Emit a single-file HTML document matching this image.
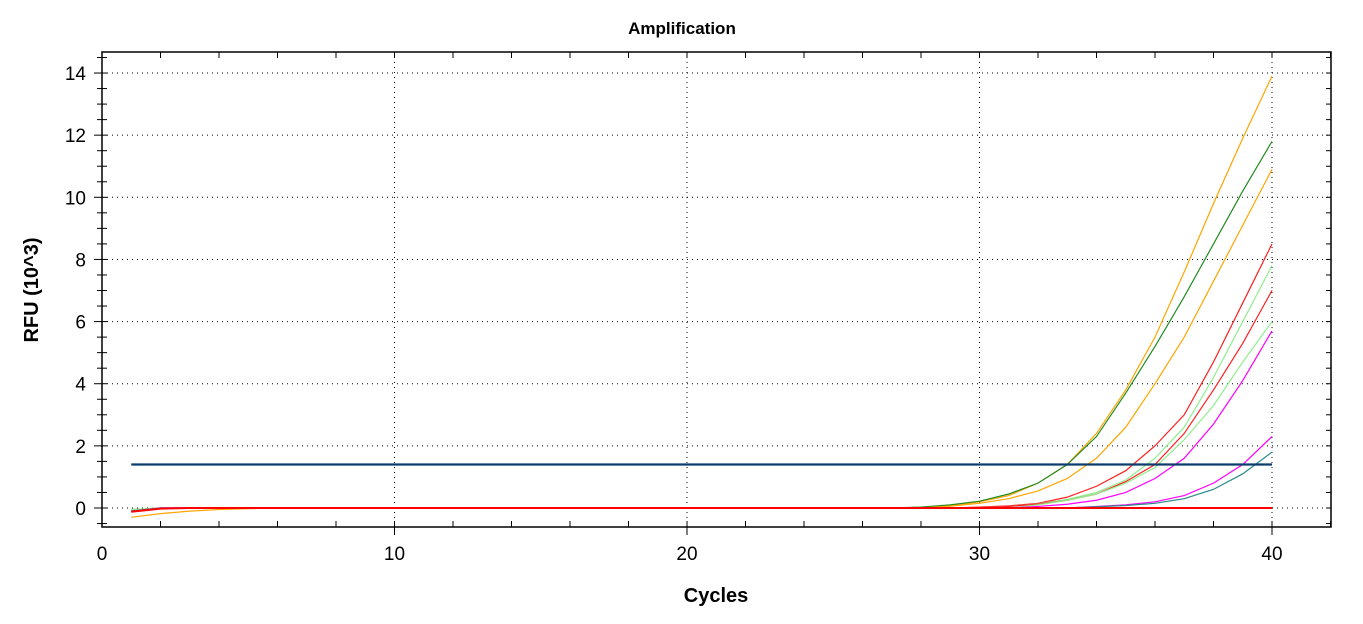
<!DOCTYPE html>
<html><head><meta charset="utf-8"><style>
body{margin:0;background:#fff;}
svg{display:block;font-family:"Liberation Sans",Arial,sans-serif;}
</style></head><body>
<svg id="chart" width="1363" height="624">
<text x="682" y="34" text-anchor="middle" font-size="17" font-weight="bold">Amplification</text>
<text x="716" y="602" text-anchor="middle" font-size="20" font-weight="bold">Cycles</text>
<text transform="translate(38,290) rotate(-90)" text-anchor="middle" font-size="20" font-weight="bold">RFU (10^3)</text>
<g id="grid"></g>
<g id="axes"></g>
<g id="series"></g>
</svg>
<script>
const xTicks=[0,10,20,30,40];
const yTicks=[0,2,4,6,8,10,12,14];
const threshold=1.4;
const z=(n)=>Array(n).fill(0);
const seriesColors=["#ffa500","#228b22","#ffa500","#ff2020","#90ee90","#ff2020","#90ee90","#ff00ff","#ff00ff","#2a8a8a","#ff0000"];
const s1=[-0.3,-0.18,-0.1,-0.05,-0.02].concat(z(22),[0.02,0.08,0.2,0.4,0.8,1.4,2.4,3.8,5.5,7.6,9.8,11.9,13.9]);
const s2=[-0.05,0,0,0,0].concat(z(22),[0.03,0.1,0.22,0.45,0.8,1.4,2.3,3.7,5.2,6.8,8.5,10.2,11.8]);
const s3=[-0.1,-0.02,0,0,0].concat(z(23),[0.06,0.15,0.3,0.55,0.95,1.6,2.6,4.0,5.5,7.3,9.1,10.9]);
const s4=[-0.1,0,0,0,0].concat(z(24),[0.03,0.07,0.15,0.35,0.7,1.2,2.0,3.0,4.7,6.6,8.5]);
const s5=[-0.05,0,0,0,0].concat(z(25),[0.05,0.13,0.28,0.5,0.9,1.6,2.6,4.2,6.0,7.8]);
const s6=[-0.1,0,0,0,0].concat(z(25),[0.05,0.12,0.25,0.45,0.85,1.4,2.4,3.8,5.3,7.0]);
const s7=[-0.05,0,0,0,0].concat(z(26),[0.1,0.25,0.45,0.8,1.3,2.2,3.3,4.7,6.0]);
const s8=[-0.1,0,0,0,0].concat(z(26),[0.05,0.12,0.25,0.5,0.95,1.6,2.7,4.1,5.7]);
const s9=[-0.1,0,0,0,0].concat(z(28),[0.05,0.1,0.2,0.4,0.8,1.4,2.3]);
const s10=[-0.1,0,0,0,0].concat(z(28),[0.04,0.08,0.15,0.3,0.6,1.1,1.8]);
const s11=[-0.12,-0.02,0,0,0].concat(z(35));
const allSeries=[s1,s2,s3,s4,s5,s6,s7,s8,s9,s10,s11];
const L=102,R=1331,T=52,B=527;
const xs=c=>L+c*29.25;
const ys=v=>508-v*31.07;
const NS="http://www.w3.org/2000/svg";
function mk(tag,attrs,parent){const e=document.createElementNS(NS,tag);for(const k in attrs)e.setAttribute(k,attrs[k]);parent.appendChild(e);return e;}
const grid=document.getElementById('grid'),axes=document.getElementById('axes'),ser=document.getElementById('series');
yTicks.forEach(v=>{const l=mk('line',{x1:L,x2:R,y1:ys(v),y2:ys(v),stroke:'#000','stroke-dasharray':'1,4'},grid);

const t=mk('text',{x:86,y:ys(v)+7,'text-anchor':'end','font-size':19},axes);t.textContent=v;
});
for(let v=-0.5;v<=14.6;v+=0.5){const y=ys(v);if(y<T)continue;mk('line',{x1:L-(v%2===0?8:5),x2:L+5,y1:y,y2:y,stroke:'#000'},axes);mk('line',{x1:R-5,x2:R,y1:y,y2:y,stroke:'#000'},axes);}
xTicks.forEach(c=>{if(c>0){const l=mk('line',{x1:xs(c),x2:xs(c),y1:T,y2:B,stroke:'#000','stroke-dasharray':'1,4'},grid);
}
const t=mk('text',{x:xs(c),y:560,'text-anchor':'middle','font-size':19},axes);t.textContent=c;
});
for(let c=2;c<=42;c+=2){const x=xs(c);if(x>R)break;mk('line',{x1:x,x2:x,y1:T,y2:T+6,stroke:'#000'},axes);mk('line',{x1:x,x2:x,y1:B-6,y2:B+(c%10===0?8:0),stroke:'#000'},axes);}
const fr=mk('rect',{x:L,y:T,width:R-L,height:B-T,fill:'none',stroke:'#000','stroke-width':1.5},axes);

allSeries.forEach((s,i)=>{const p=mk('polyline',{points:s.map((v,j)=>xs(j+1)+','+ys(v)).join(' '),fill:'none',stroke:seriesColors[i],'stroke-width':i===10?2:1.2},ser);
});
const th=mk('line',{x1:xs(1),x2:xs(40),y1:ys(threshold),y2:ys(threshold),stroke:'#0a3d6e','stroke-width':2.2},ser);

</script>
</body></html>
